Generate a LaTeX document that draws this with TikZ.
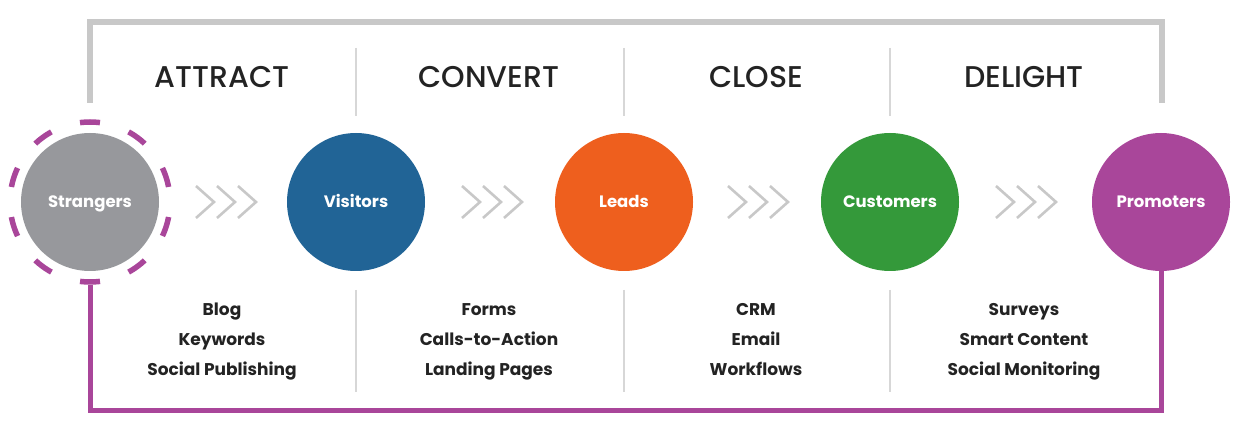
\documentclass[tikz,border=0pt]{standalone}
\usepackage{fontspec}
\setmainfont{Poppins}
\newfontfamily\headfont{Poppins}[UprightFont={* Medium}]
\usetikzlibrary{positioning}
\definecolor{stonegray}{RGB}{151, 152, 156}
\definecolor{oceanblue}{RGB}{33, 100, 150}
\definecolor{pumpkin}{RGB}{238, 95, 30}
\definecolor{forest}{RGB}{52, 153, 58}
\definecolor{orchid}{RGB}{169, 70, 154}
\definecolor{silver}{RGB}{200, 200, 200}
\definecolor{mist}{RGB}{215, 215, 215}
\definecolor{ink}{RGB}{35, 35, 35}

\tikzset{
  stage/.style={circle, minimum size=138pt, inner sep=0pt, text=white, text height=12pt, text depth=0pt,
                font=\fontsize{16.5}{18}\selectfont\bfseries},
  phase/.style={text=ink, font=\headfont\fontsize{30}{32}\selectfont},
  tools/.style={text=ink, align=center, anchor=base, font=\fontsize{17}{30.5}\selectfont\bfseries},
  chevron/.style={silver, line width=2.6pt},
  divider/.style={mist, line width=1.5pt},
  bracket/.style={silver, line width=5.5pt},
  loopline/.style={orchid, line width=5pt}
}

\begin{document}
\begin{tikzpicture}[x=1pt, y=-1pt]
            \useasboundingbox (0,0) rectangle (1240,430);
            % circles
            \node[stage, fill=stonegray] (strangers) at (  90,202) {Strangers};
            \node[stage, fill=oceanblue] (visitors)  at ( 356,202) {Visitors};
            \node[stage, fill=pumpkin]   (leads)     at ( 624,202) {Leads};
            \node[stage, fill=forest]    (customers) at ( 890,202) {Customers};
            \node[stage, fill=orchid]    (promoters) at (1161,202) {Promoters};
            \node[circle, minimum size=160pt, inner sep=0pt, draw=orchid, line width=5.5pt,
                  dash pattern=on 20pt off 30.27pt, dash phase=35.13pt] (ring) at (strangers) {};
            % phase headers
            \node[phase] (attract) at ( 222,77) {ATTRACT};
            \node[phase] (convert) at ( 489,77) {CONVERT};
            \node[phase] (close)   at ( 756,77) {CLOSE};
            \node[phase] (delight) at (1024,77) {DELIGHT};
            % tool lists
            \node[tools] (attracttools) at ( 222,376) {Blog\\Keywords\\Social Publishing};
            \node[tools] (converttools) at ( 489,376) {Forms\\Calls-to-Action\\Landing Pages};
            \node[tools] (closetools)   at ( 756,376) {CRM\\Email\\Workflows};
            \node[tools] (delighttools) at (1024,376) {Surveys\\Smart Content\\Social Monitoring};
            % dividers
            \draw[divider] (356, 48) -- (356,116);  \draw[divider] (356,290) -- (356,392);
            \draw[divider] (624, 48) -- (624,116);  \draw[divider] (624,290) -- (624,392);
            \draw[divider] (890, 48) -- (890,116);  \draw[divider] (890,290) -- (890,392);
            % chevrons
            \draw[chevron] (196,186) -- (214,202) -- (196,218)  (217,186) -- (235,202) -- (217,218)  (238,186) -- (256,202) -- (238,218);
            \draw[chevron] (462,186) -- (480,202) -- (462,218)  (483,186) -- (501,202) -- (483,218)  (504,186) -- (522,202) -- (504,218);
            \draw[chevron] (728,186) -- (746,202) -- (728,218)  (749,186) -- (767,202) -- (749,218)  (770,186) -- (788,202) -- (770,218);
            \draw[chevron] (996,186) -- (1014,202) -- (996,218) (1017,186) -- (1035,202) -- (1017,218) (1038,186) -- (1056,202) -- (1038,218);
            % top bracket and return loop
            \coordinate (bracketleft)  at (  90,103);
            \coordinate (bracketright) at (1162,103);
            \coordinate (brackettop)   at (   0, 22);
            \coordinate (loopbase)     at (   0,410);
            \draw[bracket] (bracketleft) -- (bracketleft |- brackettop) -| (bracketright);
            \draw[loopline] (ring.south) -- (ring.south |- loopbase) -| (promoters.south);
        \end{tikzpicture}
\end{document}
